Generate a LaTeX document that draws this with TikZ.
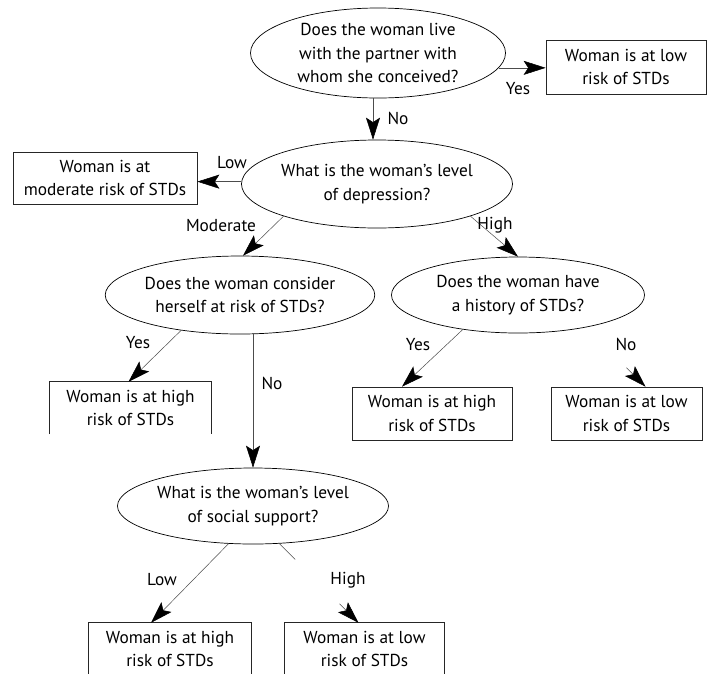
\documentclass[tikz,border=0pt]{standalone}
\usepackage{fontspec}
\setmainfont{PT Sans}
\usetikzlibrary{shapes.geometric,arrows.meta,calc}
\begin{document}
\begin{tikzpicture}[x=1pt,y=-1pt,
  every node/.style={font=\fontsize{17.3}{23.8}\selectfont},
  q/.style={ellipse,draw=black,line width=0.7pt,align=center,inner sep=0pt},
  ans/.style={rectangle,draw=black!85,line width=0.7pt,align=center,inner sep=0pt},
  openans/.style={rectangle,align=center,inner sep=0pt},
  ansline/.style={draw=black!85,line width=0.7pt},
  conn/.style={draw=black!70,line width=0.5pt},
  arr/.style={conn,-{Stealth[length=22pt,width=14pt,inset=4.5pt,color=black,fill=black,line width=0.5pt]}},
  lbl/.style={inner sep=0pt}]
\useasboundingbox[fill=white] (0,0) rectangle (707,673);

% question nodes
\node[q,minimum width=255pt,minimum height=90pt] (e1) at (378,53) {Does the woman live\\with the partner with\\whom she conceived?};
\node[q,minimum width=261pt,minimum height=88pt] (e2) at (377,184) {What is the woman’s level\\of depression?};
\node[q,minimum width=250pt,minimum height=78pt] (e3) at (240,295) {Does the woman consider\\herself at risk of STDs?};
\node[q,minimum width=253pt,minimum height=76pt] (e5) at (518,295) {Does the woman have\\a history of STDs?};
\node[q,minimum width=252pt,minimum height=76pt] (e4) at (253,506) {What is the woman’s level\\of social support?};

% answer nodes
\node[ans,minimum width=160pt,minimum height=54pt] (b1) at (626,67) {Woman is at low\\risk of STDs};
\node[ans,minimum width=184pt,minimum height=52pt] (b2) at (105,178) {Woman is at\\moderate risk of STDs};
\node[openans,minimum width=161pt,minimum height=52pt] (b3) at (130.5,408) {Woman is at high\\risk of STDs};
\draw[ansline] (b3.south west) -- (b3.north west) -- (b3.north east) -- (b3.south east);
\node[ans,minimum width=160pt,minimum height=53pt] (b4) at (432,413.5) {Woman is at high\\risk of STDs};
\node[ans,minimum width=151pt,minimum height=53pt] (b5) at (626.5,413.5) {Woman is at low\\risk of STDs};
\node[openans,minimum width=162pt,minimum height=52pt] (b6) at (170,649) {Woman is at high\\risk of STDs};
\draw[ansline] (b6.south west) -- (b6.north west) -- (b6.north east) -- (b6.south east);
\node[openans,minimum width=159pt,minimum height=52pt] (b7) at (364.5,649) {Woman is at low\\risk of STDs};
\draw[ansline] (b7.south west) -- (b7.north west) -- (b7.north east) -- (b7.south east);

% connectors
\draw[arr] (e1.-7) -- (e1.-7 -| b1.west);
\coordinate (n1) at ([xshift=-5pt]e1.south);
\draw[arr] (n1) -- (n1 |- e2.north);
\draw[arr] (e2.179) -- (e2.179 -| b2.east);
\draw[arr] (e2.199) -- ([xshift=3pt]e3.north);
\draw[arr] (e2.-19) -- (e5.north);
\draw[arr] (e3.211) -- ([xshift=-2pt]b3.north);
\draw[arr] (e4.north |- e3.south) -- (e4.north);
\draw[arr] (e5.212) -- ([xshift=-30pt]b4.north);
\coordinate (n5) at ([xshift=19pt]b5.north);
\draw[arr] ($(n5)+(-19,-19)$) -- (n5);
\draw[arr] (e4.237) -- ([xshift=-19pt]b6.north);
\coordinate (h1) at (e4.305);
\coordinate (h2) at ([xshift=-6pt]b7.north);
\draw[conn] (h1) -- ($(h1)!0.2!(h2)$);
\draw[arr] ($(h1)!0.76!(h2)$) -- (h2);

% labels
\node[lbl] (l1) at (518,89) {Yes};
\node[lbl] (l2) at (398,118) {No};
\node[lbl] (l3) at (232,163) {Low};
\node[lbl] (l4) at (221,226) {Moderate};
\node[lbl] (l5) at (495,225) {High};
\node[lbl] (l6) at (138,343) {Yes};
\node[lbl] (l7) at (272,383) {No};
\node[lbl] (l8) at (418,345) {Yes};
\node[lbl] (l9) at (626,344) {No};
\node[lbl] (l10) at (162,580) {Low};
\node[lbl] (l11) at (348,580) {High};
\end{tikzpicture}
\end{document}
